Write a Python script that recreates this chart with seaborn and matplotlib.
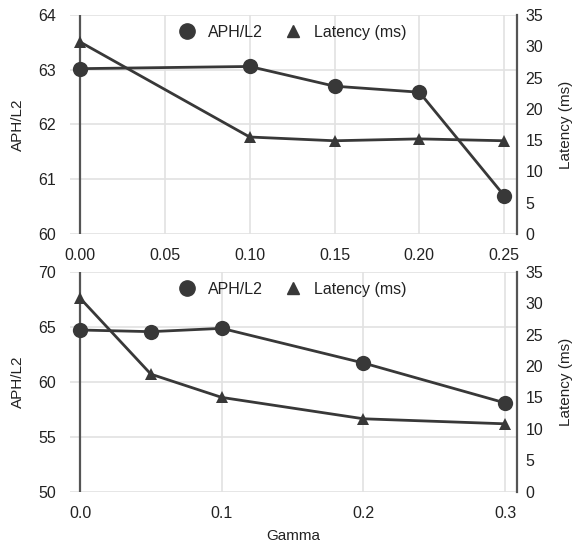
import pandas as pd
import seaborn as sns
import matplotlib.pyplot as plt
from matplotlib.lines import Line2D

# data
gamma_top = [0.00, 0.10, 0.15, 0.20, 0.25]
aph_top = [63.02, 63.06, 62.70, 62.59, 60.70]
lat_top = [30.7, 15.5, 14.9, 15.2, 14.9]

gamma_bot = [0.0, 0.05, 0.1, 0.2, 0.3]
aph_bot = [64.7, 64.55, 64.85, 61.7, 58.07]
lat_bot = [30.8, 18.7, 15.0, 11.6, 10.8]

top_xticks = [0.00, 0.05, 0.10, 0.15, 0.20, 0.25]
bot_xticks = [0.0, 0.1, 0.2, 0.3]

sns.set_style("white")
plt.rcParams["font.family"] = ["Liberation Sans", "DejaVu Sans"]

dark = "#383838"
grid = "#e2e2e2"
spine = "#555555"
text = "#222222"


def draw_panel(ax, x, aph, lat, xticks, xfmt, ylim, yticks, xlim, show_xlabel):
    df = pd.DataFrame({"gamma": x, "aph": aph, "lat": lat})

    ax.grid(True, color=grid, linewidth=1.2)
    ax.set_axisbelow(True)
    sns.lineplot(data=df, x="gamma", y="aph", ax=ax, color=dark, linewidth=2,
                 marker="o", markersize=11, markeredgewidth=0, zorder=3)
    ax.axvline(x[0], color=spine, linewidth=1.6, zorder=2)
    ax.set_xlim(*xlim)
    ax.set_ylim(*ylim)
    ax.set_yticks(yticks)
    ax.set_xticks(xticks)
    ax.set_xticklabels([xfmt.format(t) for t in xticks])
    for s in ax.spines.values():
        s.set_visible(False)
    ax.tick_params(axis="y", length=0, labelsize=11.5, colors=text, pad=10)
    ax.tick_params(axis="x", length=0, labelsize=11.5, colors=text, pad=10)
    ax.set_ylabel("APH/L2", fontsize=11, color=text)
    ax.yaxis.set_label_coords(-0.1, 0.5)
    ax.set_xlabel("Gamma" if show_xlabel else "", fontsize=11, color=text,
                  labelpad=6)

    ax2 = ax.twinx()
    sns.lineplot(data=df, x="gamma", y="lat", ax=ax2, color=dark, linewidth=2,
                 marker="^", markersize=9, markeredgewidth=0, zorder=3)
    ax2.set_ylim(0, 35)
    ax2.set_yticks(range(0, 36, 5))
    ax2.grid(False)
    for s in ax2.spines.values():
        s.set_visible(False)
    ax2.spines["right"].set_visible(True)
    ax2.spines["right"].set_color(spine)
    ax2.spines["right"].set_linewidth(1.6)
    ax2.tick_params(length=0, labelsize=11.5, colors=text, pad=6)
    ax2.set_ylabel("Latency (ms)", fontsize=11, color=text)
    ax2.yaxis.set_label_coords(1.095, 0.5)

    handles = [
        Line2D([], [], color=dark, marker="o", linestyle="none", markersize=11),
        Line2D([], [], color=dark, marker="^", linestyle="none", markersize=9),
    ]
    ax2.legend(handles, ["APH/L2", "Latency (ms)"], loc="center", ncol=2,
               bbox_to_anchor=(0.49, 0.92), frameon=False, fontsize=11.5,
               handletextpad=0.3, columnspacing=0.9, labelcolor=text)


fig = plt.figure(figsize=(5.75, 5.42), dpi=100)
ax_top = fig.add_axes([0.1217, 0.5683, 0.7773, 0.404])
ax_bot = fig.add_axes([0.1217, 0.0928, 0.7773, 0.4059])

draw_panel(ax_top, gamma_top, aph_top, lat_top, top_xticks, "{:.2f}",
           (60, 64), [60, 61, 62, 63, 64], (-0.0059, 0.2575), False)
draw_panel(ax_bot, gamma_bot, aph_bot, lat_bot, bot_xticks, "{:.1f}",
           (50, 70), [50, 55, 60, 65, 70], (-0.0071, 0.3083), True)

fig.savefig("out.png", dpi=100)
